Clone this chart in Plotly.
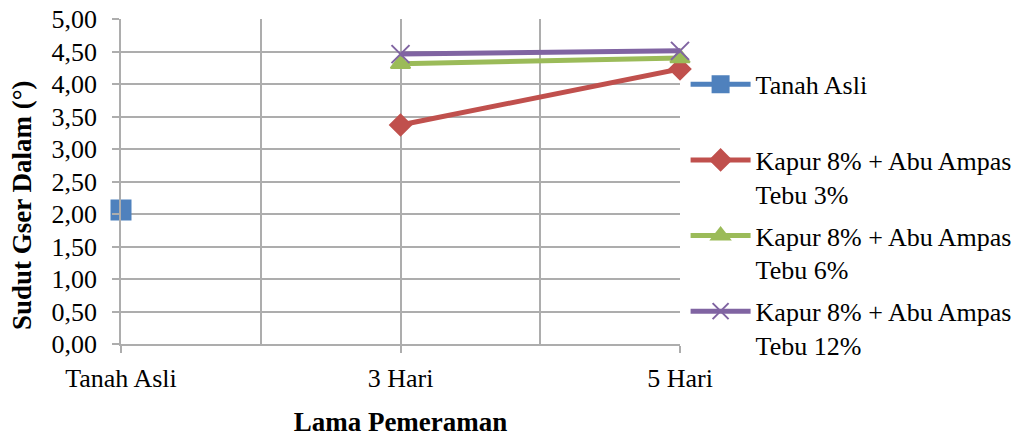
import plotly.graph_objects as go

# Curing duration categories (x axis)
categories = ["Tanah Asli", "3 Hari", "5 Hari"]

# Internal friction angle (degrees) per series; None where not measured
tanah_asli = [2.06, None, None]
kapur_abu_3 = [None, 3.37, 4.23]
kapur_abu_6 = [None, 4.31, 4.40]
kapur_abu_12 = [None, 4.46, 4.51]

y_ticks = [0, 0.5, 1, 1.5, 2, 2.5, 3, 3.5, 4, 4.5, 5]

x_pos = list(range(len(categories)))
FONT = "Times New Roman, Liberation Serif, serif"
GRID = "#ADADAD"

series = [
    ("Tanah Asli<br> ", tanah_asli, "#4F81BD", "square", 19),
    ("Kapur 8% + Abu Ampas<br>Tebu 3%", kapur_abu_3, "#C0504D", "diamond", 16),
    ("Kapur 8% + Abu Ampas<br>Tebu 6%", kapur_abu_6, "#9BBB59", "triangle-up", 17),
    ("Kapur 8% + Abu Ampas<br>Tebu 12%", kapur_abu_12, "#8064A2", "x-thin-open", 18),
]

fig = go.Figure()
for i, (name, vals, color, symbol, size) in enumerate(series):
    fig.add_trace(go.Scatter(
        x=x_pos, y=vals, name=name, mode="lines+markers",
        legendgroup=f"g{i}",
        line=dict(color=color, width=5),
        marker=dict(symbol=symbol, size=size, color=color,
                    line=dict(color=color, width=2)),
        cliponaxis=False,
    ))

fig.update_layout(
    width=1023, height=437,
    margin=dict(l=121, r=343, t=19, b=93, autoexpand=False),
    plot_bgcolor="white", paper_bgcolor="white",
    separators=",.",
    font=dict(family=FONT, size=26, color="black"),
    showlegend=True,
    legend=dict(
        x=1.01, y=0.871, xanchor="left", yanchor="top",
        valign="top", font=dict(family=FONT, size=26, color="black"),
        tracegroupgap=5, itemwidth=60,
        bgcolor="rgba(0,0,0,0)",
    ),
    annotations=[dict(
        text="<b>Sudut Gser Dalam (°)</b>",
        xref="paper", yref="paper", x=-0.177, y=0.428,
        xanchor="center", yanchor="middle", textangle=-90,
        showarrow=False, font=dict(family=FONT, size=27, color="black"),
    )],
)

fig.update_xaxes(
    range=[0, 2],
    tickmode="array", tickvals=x_pos, ticktext=categories,
    tickfont=dict(family=FONT, size=26, color="black"),
    showgrid=True, gridcolor=GRID, gridwidth=1.5,
    minor=dict(dtick=0.5, tick0=0, showgrid=True, gridcolor=GRID, gridwidth=1.5,
               ticks=""),
    showline=True, linecolor=GRID, linewidth=1.5,
    ticks="outside", ticklen=7, tickcolor=GRID, tickwidth=1.5,
    ticklabelstandoff=3,
    zeroline=False,
    title=dict(text="<b>Lama Pemeraman</b>", standoff=20,
               font=dict(family=FONT, size=27, color="black")),
)

fig.update_yaxes(
    range=[0, 5],
    tickmode="array", tickvals=y_ticks, tickformat=".2f",
    tickfont=dict(family=FONT, size=26, color="black"),
    showgrid=True, gridcolor=GRID, gridwidth=1.5,
    showline=True, linecolor=GRID, linewidth=1.5,
    ticks="outside", ticklen=7, tickcolor=GRID, tickwidth=1.5,
    ticklabelstandoff=10,
    zeroline=False,
)

fig.write_html("out.html")
